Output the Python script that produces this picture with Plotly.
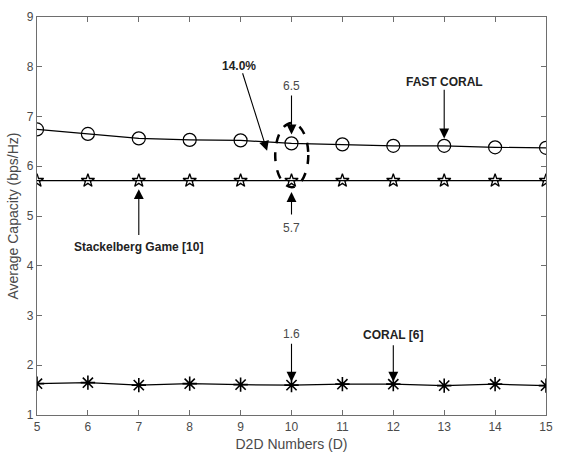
import plotly.graph_objects as go

d2d = [5, 6, 7, 8, 9, 10, 11, 12, 13, 14, 15]
fast_coral = [6.74, 6.65, 6.56, 6.53, 6.52, 6.46, 6.44, 6.41, 6.41, 6.38, 6.37]
stackelberg = [5.71, 5.71, 5.71, 5.71, 5.71, 5.71, 5.71, 5.71, 5.71, 5.71, 5.71]
coral = [1.63, 1.65, 1.60, 1.63, 1.61, 1.60, 1.62, 1.62, 1.59, 1.62, 1.59]

x_ticks = [5, 6, 7, 8, 9, 10, 11, 12, 13, 14, 15]
y_ticks = [1, 2, 3, 4, 5, 6, 7, 8, 9]

FONT = "Liberation Sans, Arial, sans-serif"
AX = "#6e6e6e"
TXT = "#4a4a4a"

fig = go.Figure()
fig.add_trace(go.Scatter(x=d2d, y=fast_coral, mode="lines+markers", name="FAST CORAL",
                         line=dict(color="black", width=1.2),
                         marker=dict(symbol="circle-open", size=13, color="black", line=dict(width=1.2))))
fig.add_trace(go.Scatter(x=d2d, y=stackelberg, mode="lines+markers", name="Stackelberg Game [10]",
                         line=dict(color="black", width=1.2),
                         marker=dict(symbol="star-open", size=10, color="black", line=dict(width=1.3))))
fig.add_trace(go.Scatter(x=d2d, y=coral, mode="lines+markers", name="CORAL [6]",
                         line=dict(color="black", width=1.2),
                         marker=dict(symbol="asterisk-open", size=12, color="black", line=dict(width=1.6))))

# arrows: (tip_x, tip_y, tail_x, tail_y)
arrows = [
    (9.52, 6.31, 9.03, 7.90),   # 14.0%
    (10.0, 6.64, 10.0, 7.45),   # 6.5
    (13.0, 6.56, 13.0, 7.57),   # FAST CORAL
    (7.0, 5.54, 7.0, 4.59),     # Stackelberg
    (10.0, 5.48, 10.0, 5.0),    # 5.7
    (10.0, 1.67, 10.0, 2.46),   # 1.6
    (12.0, 1.67, 12.0, 2.43),   # CORAL
]
for tx, ty, ax_, ay_ in arrows:
    fig.add_annotation(x=tx, y=ty, ax=ax_, ay=ay_, xref="x", yref="y", axref="x", ayref="y",
                       text="", showarrow=True, arrowhead=2, arrowsize=1.8, arrowwidth=1.1,
                       arrowcolor="black")

labels = [
    ("14.0%", 8.96, 8.01, True),
    ("6.5", 10.0, 7.62, False),
    ("FAST CORAL", 13.0, 7.70, True),
    ("Stackelberg Game [10]", 7.0, 4.38, True),
    ("5.7", 10.0, 4.75, False),
    ("1.6", 10.0, 2.62, False),
    ("CORAL [6]", 12.0, 2.60, True),
]
for txt, x, y, bold in labels:
    fig.add_annotation(x=x, y=y, xref="x", yref="y", showarrow=False,
                       text=f"<b>{txt}</b>" if bold else txt,
                       font=dict(family=FONT, size=12, color="#222" if bold else TXT))

fig.add_shape(type="circle", xref="x", yref="y", x0=9.68, x1=10.33, y0=5.58, y1=6.87,
              line=dict(color="black", width=2.5, dash="dash"))

fig.update_layout(
    width=563, height=468, paper_bgcolor="white", plot_bgcolor="white",
    margin=dict(l=37, r=13, t=10, b=53), showlegend=False,
    font=dict(family=FONT, color=TXT),
)
fig.update_xaxes(range=[5, 15], tickvals=x_ticks, ticks="inside", ticklen=5, tickcolor=AX,
                 showline=True, linecolor=AX, linewidth=1.2, mirror="ticks", showgrid=False,
                 zeroline=False, tickfont=dict(size=12, color=TXT),
                 title=dict(text="D2D Numbers (D)", font=dict(size=14, color=TXT), standoff=6))
fig.update_yaxes(range=[1, 9], tickvals=y_ticks, ticks="inside", ticklen=5, tickcolor=AX,
                 showline=True, linecolor=AX, linewidth=1.2, mirror="ticks", showgrid=False,
                 zeroline=False, tickfont=dict(size=12, color=TXT),
                 title=dict(text="Average Capacity (bps/Hz)", font=dict(size=14, color=TXT), standoff=4))

fig.write_html("out.html")
